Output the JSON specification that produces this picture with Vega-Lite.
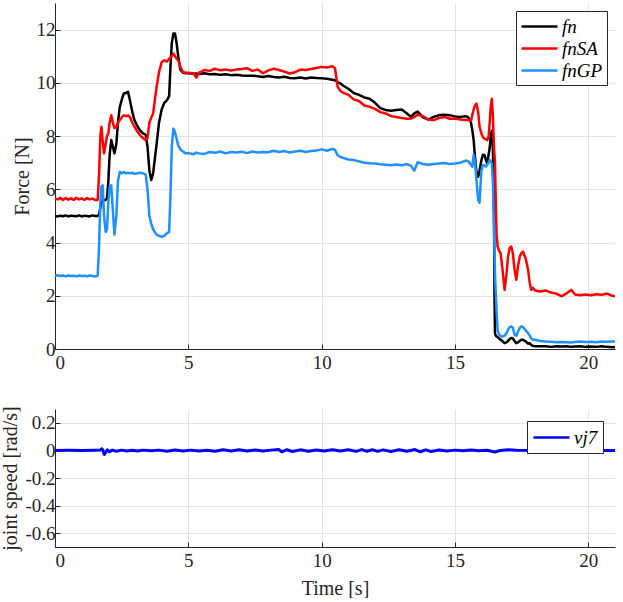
{
  "$schema": "https://vega.github.io/schema/vega-lite/v6.json",
  "padding": {"left": 0, "top": 3, "right": 2, "bottom": 0},
  "background": "white",
  "config": {
    "view": {"stroke": null},
    "font": "Liberation Serif",
    "axis": {
      "labelFont": "Liberation Serif", "labelFontSize": 19, "labelColor": "#262626",
      "titleFont": "Liberation Serif", "titleFontSize": 20, "titleColor": "#262626", "titleFontWeight": "normal",
      "domainColor": "#262626", "tickColor": "#262626", "gridColor": "#e3e3e3",
      "tickSize": -5, "labelPadding": 5
    },
    "legend": {
      "labelFont": "Liberation Serif", "labelFontSize": 19, "labelColor": "#000000", "labelFontStyle": "italic",
      "strokeColor": "#262626", "fillColor": "white", "padding": 4, "rowPadding": 0,
      "labelOffset": 19, "symbolType": "M-1,0H2.6", "symbolSize": 400, "symbolStrokeWidth": 2.5, "title": null,
      "orient": "top-right", "offset": 8
    }
  },
  "datasets": {
    "force": [
      {"t": 0, "fn": 5.0, "fnSA": 5.66, "fnGP": 2.75},
      {"t": 0.1, "fn": 4.98, "fnSA": 5.62, "fnGP": 2.77},
      {"t": 0.2, "fn": 5.01, "fnSA": 5.68, "fnGP": 2.74},
      {"t": 0.3, "fn": 4.99, "fnSA": 5.6, "fnGP": 2.76},
      {"t": 0.4, "fn": 5.02, "fnSA": 5.67, "fnGP": 2.73},
      {"t": 0.5, "fn": 4.98, "fnSA": 5.61, "fnGP": 2.76},
      {"t": 0.6, "fn": 5.01, "fnSA": 5.66, "fnGP": 2.74},
      {"t": 0.7, "fn": 5.0, "fnSA": 5.6, "fnGP": 2.75},
      {"t": 0.8, "fn": 4.99, "fnSA": 5.68, "fnGP": 2.73},
      {"t": 0.9, "fn": 5.02, "fnSA": 5.62, "fnGP": 2.76},
      {"t": 1.0, "fn": 4.98, "fnSA": 5.66, "fnGP": 2.74},
      {"t": 1.1, "fn": 5.01, "fnSA": 5.6, "fnGP": 2.75},
      {"t": 1.2, "fn": 5.0, "fnSA": 5.67, "fnGP": 2.73},
      {"t": 1.3, "fn": 4.98, "fnSA": 5.62, "fnGP": 2.76},
      {"t": 1.4, "fn": 5.02, "fnSA": 5.65, "fnGP": 2.74},
      {"t": 1.5, "fn": 5.0, "fnSA": 5.6, "fnGP": 2.72},
      {"t": 1.6, "fn": 5.0, "fnSA": 5.6, "fnGP": 2.75},
      {"t": 1.65, "fn": 5.05, "fnSA": 6.5, "fnGP": 3.8},
      {"t": 1.7, "fn": 5.3, "fnSA": 8.0, "fnGP": 5.5},
      {"t": 1.74, "fn": 5.5, "fnSA": 8.35, "fnGP": 6.1},
      {"t": 1.79, "fn": 5.6, "fnSA": 7.8, "fnGP": 6.15},
      {"t": 1.84, "fn": 5.6, "fnSA": 7.35, "fnGP": 5.0},
      {"t": 1.9, "fn": 5.6, "fnSA": 7.7, "fnGP": 4.4},
      {"t": 1.95, "fn": 5.65, "fnSA": 8.0, "fnGP": 4.5},
      {"t": 2.0, "fn": 6.3, "fnSA": 8.1, "fnGP": 5.5},
      {"t": 2.05, "fn": 7.3, "fnSA": 8.5, "fnGP": 6.1},
      {"t": 2.11, "fn": 7.85, "fnSA": 8.78, "fnGP": 6.15},
      {"t": 2.17, "fn": 7.6, "fnSA": 8.5, "fnGP": 5.2},
      {"t": 2.23, "fn": 7.35, "fnSA": 8.3, "fnGP": 4.3},
      {"t": 2.3, "fn": 7.7, "fnSA": 8.35, "fnGP": 5.0},
      {"t": 2.36, "fn": 8.5, "fnSA": 8.5, "fnGP": 6.3},
      {"t": 2.43, "fn": 9.1, "fnSA": 8.6, "fnGP": 6.66},
      {"t": 2.5, "fn": 9.35, "fnSA": 8.7, "fnGP": 6.6},
      {"t": 2.58, "fn": 9.6, "fnSA": 8.78, "fnGP": 6.65},
      {"t": 2.66, "fn": 9.62, "fnSA": 8.75, "fnGP": 6.6},
      {"t": 2.74, "fn": 9.66, "fnSA": 8.78, "fnGP": 6.62},
      {"t": 2.82, "fn": 9.3, "fnSA": 8.7, "fnGP": 6.6},
      {"t": 2.9, "fn": 8.9, "fnSA": 8.5, "fnGP": 6.62},
      {"t": 2.98, "fn": 8.6, "fnSA": 8.35, "fnGP": 6.58},
      {"t": 3.1, "fn": 8.35, "fnSA": 8.15, "fnGP": 6.6},
      {"t": 3.2, "fn": 8.2, "fnSA": 8.02, "fnGP": 6.62},
      {"t": 3.3, "fn": 8.1, "fnSA": 7.92, "fnGP": 6.6},
      {"t": 3.4, "fn": 8.05, "fnSA": 7.85, "fnGP": 6.55},
      {"t": 3.47, "fn": 7.6, "fnSA": 7.95, "fnGP": 6.0},
      {"t": 3.54, "fn": 6.7, "fnSA": 8.5, "fnGP": 5.0},
      {"t": 3.61, "fn": 6.35, "fnSA": 8.7, "fnGP": 4.7},
      {"t": 3.68, "fn": 6.6, "fnSA": 8.85, "fnGP": 4.5},
      {"t": 3.75, "fn": 7.2, "fnSA": 9.4, "fnGP": 4.38},
      {"t": 3.81, "fn": 7.7, "fnSA": 9.85, "fnGP": 4.3},
      {"t": 3.9, "fn": 8.5, "fnSA": 10.4, "fnGP": 4.25},
      {"t": 4.0, "fn": 9.0, "fnSA": 10.78, "fnGP": 4.22},
      {"t": 4.1, "fn": 9.25, "fnSA": 10.85, "fnGP": 4.25},
      {"t": 4.2, "fn": 9.35, "fnSA": 10.8, "fnGP": 4.35},
      {"t": 4.28, "fn": 9.5, "fnSA": 10.9, "fnGP": 4.4},
      {"t": 4.33, "fn": 10.6, "fnSA": 10.95, "fnGP": 5.8},
      {"t": 4.38, "fn": 11.5, "fnSA": 11.0, "fnGP": 7.6},
      {"t": 4.44, "fn": 11.85, "fnSA": 11.1, "fnGP": 8.28},
      {"t": 4.5, "fn": 11.85, "fnSA": 11.0, "fnGP": 8.15},
      {"t": 4.56, "fn": 11.5, "fnSA": 10.9, "fnGP": 7.9},
      {"t": 4.62, "fn": 11.0, "fnSA": 10.85, "fnGP": 7.65},
      {"t": 4.7, "fn": 10.5, "fnSA": 10.6, "fnGP": 7.5},
      {"t": 4.8, "fn": 10.38, "fnSA": 10.4, "fnGP": 7.42},
      {"t": 4.9, "fn": 10.36, "fnSA": 10.38, "fnGP": 7.35},
      {"t": 5.0, "fn": 10.36, "fnSA": 10.38, "fnGP": 7.36},
      {"t": 5.2, "fn": 10.34, "fnSA": 10.36, "fnGP": 7.32},
      {"t": 5.3, "fn": 10.35, "fnSA": 10.2, "fnGP": 7.38},
      {"t": 5.4, "fn": 10.33, "fnSA": 10.38, "fnGP": 7.35},
      {"t": 5.6, "fn": 10.36, "fnSA": 10.48, "fnGP": 7.33},
      {"t": 5.8, "fn": 10.32, "fnSA": 10.45, "fnGP": 7.4},
      {"t": 6.0, "fn": 10.33, "fnSA": 10.53, "fnGP": 7.37},
      {"t": 6.2, "fn": 10.3, "fnSA": 10.47, "fnGP": 7.42},
      {"t": 6.4, "fn": 10.32, "fnSA": 10.5, "fnGP": 7.35},
      {"t": 6.6, "fn": 10.29, "fnSA": 10.46, "fnGP": 7.4},
      {"t": 6.8, "fn": 10.3, "fnSA": 10.5, "fnGP": 7.38},
      {"t": 7.0, "fn": 10.28, "fnSA": 10.52, "fnGP": 7.41},
      {"t": 7.2, "fn": 10.27, "fnSA": 10.55, "fnGP": 7.36},
      {"t": 7.4, "fn": 10.27, "fnSA": 10.45, "fnGP": 7.42},
      {"t": 7.6, "fn": 10.25, "fnSA": 10.5, "fnGP": 7.38},
      {"t": 7.8, "fn": 10.22, "fnSA": 10.36, "fnGP": 7.4},
      {"t": 8.0, "fn": 10.26, "fnSA": 10.47, "fnGP": 7.39},
      {"t": 8.2, "fn": 10.22, "fnSA": 10.53, "fnGP": 7.45},
      {"t": 8.4, "fn": 10.2, "fnSA": 10.48, "fnGP": 7.4},
      {"t": 8.6, "fn": 10.23, "fnSA": 10.42, "fnGP": 7.44},
      {"t": 8.8, "fn": 10.18, "fnSA": 10.35, "fnGP": 7.38},
      {"t": 9.0, "fn": 10.17, "fnSA": 10.4, "fnGP": 7.42},
      {"t": 9.2, "fn": 10.2, "fnSA": 10.5, "fnGP": 7.45},
      {"t": 9.4, "fn": 10.16, "fnSA": 10.48, "fnGP": 7.4},
      {"t": 9.6, "fn": 10.2, "fnSA": 10.52, "fnGP": 7.44},
      {"t": 9.8, "fn": 10.18, "fnSA": 10.56, "fnGP": 7.46},
      {"t": 10.0, "fn": 10.17, "fnSA": 10.6, "fnGP": 7.5},
      {"t": 10.2, "fn": 10.15, "fnSA": 10.58, "fnGP": 7.45},
      {"t": 10.4, "fn": 10.12, "fnSA": 10.62, "fnGP": 7.52},
      {"t": 10.5, "fn": 10.1, "fnSA": 10.55, "fnGP": 7.48},
      {"t": 10.6, "fn": 10.03, "fnSA": 9.85, "fnGP": 7.28},
      {"t": 10.7, "fn": 9.98, "fnSA": 9.7, "fnGP": 7.22},
      {"t": 10.8, "fn": 9.9, "fnSA": 9.63, "fnGP": 7.18},
      {"t": 11.0, "fn": 9.78, "fnSA": 9.55, "fnGP": 7.12},
      {"t": 11.2, "fn": 9.62, "fnSA": 9.38, "fnGP": 7.1},
      {"t": 11.4, "fn": 9.55, "fnSA": 9.32, "fnGP": 7.05},
      {"t": 11.6, "fn": 9.45, "fnSA": 9.15, "fnGP": 7.0},
      {"t": 11.8, "fn": 9.4, "fnSA": 9.1, "fnGP": 6.98},
      {"t": 12.0, "fn": 9.25, "fnSA": 9.02, "fnGP": 6.97},
      {"t": 12.2, "fn": 9.05, "fnSA": 8.9, "fnGP": 6.94},
      {"t": 12.4, "fn": 8.98, "fnSA": 8.85, "fnGP": 6.92},
      {"t": 12.6, "fn": 8.95, "fnSA": 8.75, "fnGP": 6.9},
      {"t": 12.8, "fn": 8.98, "fnSA": 8.72, "fnGP": 6.93},
      {"t": 13.0, "fn": 9.0, "fnSA": 8.68, "fnGP": 6.9},
      {"t": 13.2, "fn": 8.85, "fnSA": 8.65, "fnGP": 6.95},
      {"t": 13.35, "fn": 8.72, "fnSA": 8.66, "fnGP": 6.88},
      {"t": 13.47, "fn": 8.85, "fnSA": 8.72, "fnGP": 6.7},
      {"t": 13.6, "fn": 8.92, "fnSA": 8.8, "fnGP": 7.02},
      {"t": 13.8, "fn": 8.7, "fnSA": 8.75, "fnGP": 6.95},
      {"t": 14.0, "fn": 8.62, "fnSA": 8.62, "fnGP": 6.92},
      {"t": 14.2, "fn": 8.72, "fnSA": 8.6, "fnGP": 6.95},
      {"t": 14.4, "fn": 8.78, "fnSA": 8.68, "fnGP": 6.97},
      {"t": 14.6, "fn": 8.8, "fnSA": 8.72, "fnGP": 6.99},
      {"t": 14.8, "fn": 8.78, "fnSA": 8.65, "fnGP": 6.95},
      {"t": 15.0, "fn": 8.74, "fnSA": 8.66, "fnGP": 6.97},
      {"t": 15.2, "fn": 8.72, "fnSA": 8.62, "fnGP": 7.0},
      {"t": 15.4, "fn": 8.75, "fnSA": 8.6, "fnGP": 7.08},
      {"t": 15.5, "fn": 8.7, "fnSA": 8.6, "fnGP": 7.05},
      {"t": 15.6, "fn": 8.5, "fnSA": 8.58, "fnGP": 6.92},
      {"t": 15.65, "fn": 8.22, "fnSA": 8.8, "fnGP": 6.85},
      {"t": 15.7, "fn": 7.85, "fnSA": 9.0, "fnGP": 7.3},
      {"t": 15.75, "fn": 7.2, "fnSA": 9.15, "fnGP": 7.0},
      {"t": 15.8, "fn": 6.7, "fnSA": 9.22, "fnGP": 6.4},
      {"t": 15.87, "fn": 6.47, "fnSA": 8.9, "fnGP": 5.6},
      {"t": 15.92, "fn": 6.7, "fnSA": 8.35, "fnGP": 5.5},
      {"t": 15.99, "fn": 7.1, "fnSA": 8.1, "fnGP": 6.7},
      {"t": 16.05, "fn": 7.3, "fnSA": 7.95, "fnGP": 6.9},
      {"t": 16.11, "fn": 7.28, "fnSA": 7.9, "fnGP": 6.9},
      {"t": 16.16, "fn": 7.1, "fnSA": 7.88, "fnGP": 6.85},
      {"t": 16.21, "fn": 6.97, "fnSA": 7.85, "fnGP": 6.92},
      {"t": 16.26, "fn": 7.3, "fnSA": 8.0, "fnGP": 7.0},
      {"t": 16.3, "fn": 7.55, "fnSA": 8.5, "fnGP": 7.1},
      {"t": 16.34, "fn": 8.0, "fnSA": 9.1, "fnGP": 7.05},
      {"t": 16.38, "fn": 8.2, "fnSA": 9.4, "fnGP": 6.97},
      {"t": 16.42, "fn": 7.5, "fnSA": 8.8, "fnGP": 6.3},
      {"t": 16.46, "fn": 5.85, "fnSA": 7.6, "fnGP": 4.6},
      {"t": 16.48, "fn": 2.0, "fnSA": 7.3, "fnGP": 3.8},
      {"t": 16.5, "fn": 0.6, "fnSA": 7.0, "fnGP": 2.8},
      {"t": 16.53, "fn": 0.5, "fnSA": 5.5, "fnGP": 2.1},
      {"t": 16.56, "fn": 0.47, "fnSA": 4.3, "fnGP": 1.4},
      {"t": 16.6, "fn": 0.45, "fnSA": 3.85, "fnGP": 0.7},
      {"t": 16.65, "fn": 0.4, "fnSA": 3.7, "fnGP": 0.55},
      {"t": 16.71, "fn": 0.35, "fnSA": 3.6, "fnGP": 0.48},
      {"t": 16.78, "fn": 0.3, "fnSA": 3.0, "fnGP": 0.47},
      {"t": 16.86, "fn": 0.22, "fnSA": 2.22, "fnGP": 0.5},
      {"t": 16.93, "fn": 0.25, "fnSA": 2.8, "fnGP": 0.6},
      {"t": 16.99, "fn": 0.3, "fnSA": 3.48, "fnGP": 0.72},
      {"t": 17.05, "fn": 0.38, "fnSA": 3.8, "fnGP": 0.82},
      {"t": 17.11, "fn": 0.41, "fnSA": 3.85, "fnGP": 0.85},
      {"t": 17.17, "fn": 0.4, "fnSA": 3.6, "fnGP": 0.8},
      {"t": 17.23, "fn": 0.3, "fnSA": 3.0, "fnGP": 0.55},
      {"t": 17.3, "fn": 0.22, "fnSA": 2.6, "fnGP": 0.5},
      {"t": 17.36, "fn": 0.25, "fnSA": 3.1, "fnGP": 0.65},
      {"t": 17.43, "fn": 0.3, "fnSA": 3.48, "fnGP": 0.8},
      {"t": 17.49, "fn": 0.35, "fnSA": 3.6, "fnGP": 0.85},
      {"t": 17.55, "fn": 0.35, "fnSA": 3.66, "fnGP": 0.82},
      {"t": 17.65, "fn": 0.28, "fnSA": 3.4, "fnGP": 0.7},
      {"t": 17.74, "fn": 0.2, "fnSA": 2.98, "fnGP": 0.6},
      {"t": 17.8, "fn": 0.22, "fnSA": 2.5, "fnGP": 0.5},
      {"t": 17.86, "fn": 0.15, "fnSA": 2.22, "fnGP": 0.4},
      {"t": 17.92, "fn": 0.12, "fnSA": 2.3, "fnGP": 0.35},
      {"t": 18.0, "fn": 0.1, "fnSA": 2.2, "fnGP": 0.35},
      {"t": 18.2, "fn": 0.1, "fnSA": 2.16, "fnGP": 0.3},
      {"t": 18.4, "fn": 0.1, "fnSA": 2.2, "fnGP": 0.28},
      {"t": 18.6, "fn": 0.08, "fnSA": 2.12, "fnGP": 0.27},
      {"t": 18.8, "fn": 0.1, "fnSA": 2.08, "fnGP": 0.25},
      {"t": 19.0, "fn": 0.09, "fnSA": 1.98, "fnGP": 0.26},
      {"t": 19.2, "fn": 0.1, "fnSA": 2.1, "fnGP": 0.25},
      {"t": 19.36, "fn": 0.08, "fnSA": 2.22, "fnGP": 0.24},
      {"t": 19.5, "fn": 0.09, "fnSA": 2.05, "fnGP": 0.26},
      {"t": 19.7, "fn": 0.1, "fnSA": 2.02, "fnGP": 0.28},
      {"t": 19.9, "fn": 0.08, "fnSA": 2.05, "fnGP": 0.26},
      {"t": 20.1, "fn": 0.09, "fnSA": 2.02, "fnGP": 0.27},
      {"t": 20.3, "fn": 0.08, "fnSA": 2.06, "fnGP": 0.25},
      {"t": 20.5, "fn": 0.1, "fnSA": 2.04, "fnGP": 0.28},
      {"t": 20.7, "fn": 0.08, "fnSA": 2.08, "fnGP": 0.27},
      {"t": 20.9, "fn": 0.07, "fnSA": 2.0, "fnGP": 0.28},
      {"t": 21.0, "fn": 0.08, "fnSA": 1.98, "fnGP": 0.28}
    ],
    "speed": [
      {"t": 0, "v": 0}, {"t": 0.5, "v": 0.001}, {"t": 1.0, "v": 0}, {"t": 1.5, "v": 0.001},
      {"t": 1.7, "v": 0.002}, {"t": 1.76, "v": 0.012}, {"t": 1.8, "v": 0.0}, {"t": 1.85, "v": -0.03},
      {"t": 1.9, "v": -0.015}, {"t": 1.96, "v": 0.004}, {"t": 2.05, "v": -0.01}, {"t": 2.15, "v": 0.002},
      {"t": 2.3, "v": -0.006}, {"t": 2.5, "v": 0.002}, {"t": 2.7, "v": -0.005}, {"t": 2.9, "v": 0.001},
      {"t": 3.1, "v": -0.004}, {"t": 3.3, "v": 0.002}, {"t": 3.6, "v": -0.003}, {"t": 3.9, "v": 0.002},
      {"t": 4.2, "v": -0.006}, {"t": 4.5, "v": 0.003}, {"t": 4.8, "v": -0.004}, {"t": 5.1, "v": 0.002},
      {"t": 5.4, "v": -0.004}, {"t": 5.7, "v": 0.001}, {"t": 6.0, "v": -0.006}, {"t": 6.3, "v": 0.004},
      {"t": 6.6, "v": -0.005}, {"t": 6.9, "v": 0.004}, {"t": 7.2, "v": -0.004}, {"t": 7.5, "v": 0.003},
      {"t": 7.8, "v": -0.005}, {"t": 8.1, "v": 0.002}, {"t": 8.4, "v": 0.006}, {"t": 8.5, "v": -0.01},
      {"t": 8.7, "v": 0.005}, {"t": 8.9, "v": -0.008}, {"t": 9.2, "v": 0.004}, {"t": 9.5, "v": -0.006},
      {"t": 9.8, "v": 0.003}, {"t": 10.1, "v": -0.005}, {"t": 10.4, "v": 0.004}, {"t": 10.7, "v": -0.004},
      {"t": 11.0, "v": 0.005}, {"t": 11.3, "v": -0.007}, {"t": 11.5, "v": 0.006}, {"t": 11.7, "v": -0.006},
      {"t": 11.9, "v": 0.005}, {"t": 12.1, "v": -0.007}, {"t": 12.3, "v": 0.004}, {"t": 12.6, "v": -0.008},
      {"t": 12.9, "v": 0.005}, {"t": 13.2, "v": -0.006}, {"t": 13.5, "v": 0.006}, {"t": 13.7, "v": -0.01},
      {"t": 13.9, "v": 0.004}, {"t": 14.1, "v": -0.008}, {"t": 14.4, "v": 0.003}, {"t": 14.7, "v": -0.004},
      {"t": 15.0, "v": 0.002}, {"t": 15.3, "v": -0.003}, {"t": 15.6, "v": 0.003}, {"t": 15.9, "v": -0.002},
      {"t": 16.2, "v": 0.001}, {"t": 16.5, "v": -0.012}, {"t": 16.7, "v": 0.0}, {"t": 17.0, "v": 0.004},
      {"t": 17.3, "v": 0.001}, {"t": 18.0, "v": 0}, {"t": 19.0, "v": 0.001}, {"t": 20.0, "v": 0}, {"t": 21.0, "v": 0}
    ]
  },
  "vconcat": [
    {
      "width": 560,
      "height": 346,
      "data": {"name": "force"},
      "transform": [{"fold": ["fn", "fnSA", "fnGP"], "as": ["series", "force"]}],
      "mark": {"type": "line", "strokeWidth": 2.5, "strokeJoin": "round", "clip": true},
      "encoding": {
        "x": {
          "field": "t", "type": "quantitative",
          "scale": {"domain": [0, 21], "nice": false},
          "axis": {"values": [0, 5, 10, 15, 20], "title": null, "labelPadding": 9}
        },
        "y": {
          "field": "force", "type": "quantitative",
          "scale": {"domain": [0, 13], "nice": false},
          "axis": {"values": [0, 2, 4, 6, 8, 10, 12], "title": "Force [N]", "titlePadding": 4}
        },
        "color": {
          "field": "series", "type": "nominal",
          "scale": {"domain": ["fn", "fnSA", "fnGP"], "range": ["#000000", "#ff0000", "#1e90ff"]},
          "legend": {}
        },
        "order": {"field": "t"}
      }
    },
    {
      "width": 560,
      "height": 138,
      "data": {"name": "speed"},
      "transform": [{"fold": ["v"], "as": ["series", "speed"]}],
      "mark": {"type": "line", "strokeWidth": 3, "strokeJoin": "round", "clip": true},
      "encoding": {
        "x": {
          "field": "t", "type": "quantitative",
          "scale": {"domain": [0, 21], "nice": false},
          "axis": {"values": [0, 5, 10, 15, 20], "title": "Time [s]", "labelPadding": 9, "titlePadding": 8}
        },
        "y": {
          "field": "speed", "type": "quantitative",
          "scale": {"domain": [-0.7, 0.3], "nice": false},
          "axis": {
            "values": [-0.6, -0.4, -0.2, 0, 0.2],
            "labelExpr": "datum.value == 0 ? '0' : replace(format(datum.value, '.1f'), '\u2212', '-')",
            "title": "joint speed [rad/s]", "titlePadding": 4
          }
        },
        "color": {
          "field": "series", "type": "nominal",
          "scale": {"domain": ["v"], "range": ["#0000ff"]},
          "legend": {"labelExpr": "'vj7'", "offset": 12, "padding": 5}
        },
        "order": {"field": "t"}
      }
    }
  ],
  "spacing": 60,
  "bounds": "flush",
  "resolve": {"scale": {"color": "independent"}, "legend": {"color": "independent"}}
}
